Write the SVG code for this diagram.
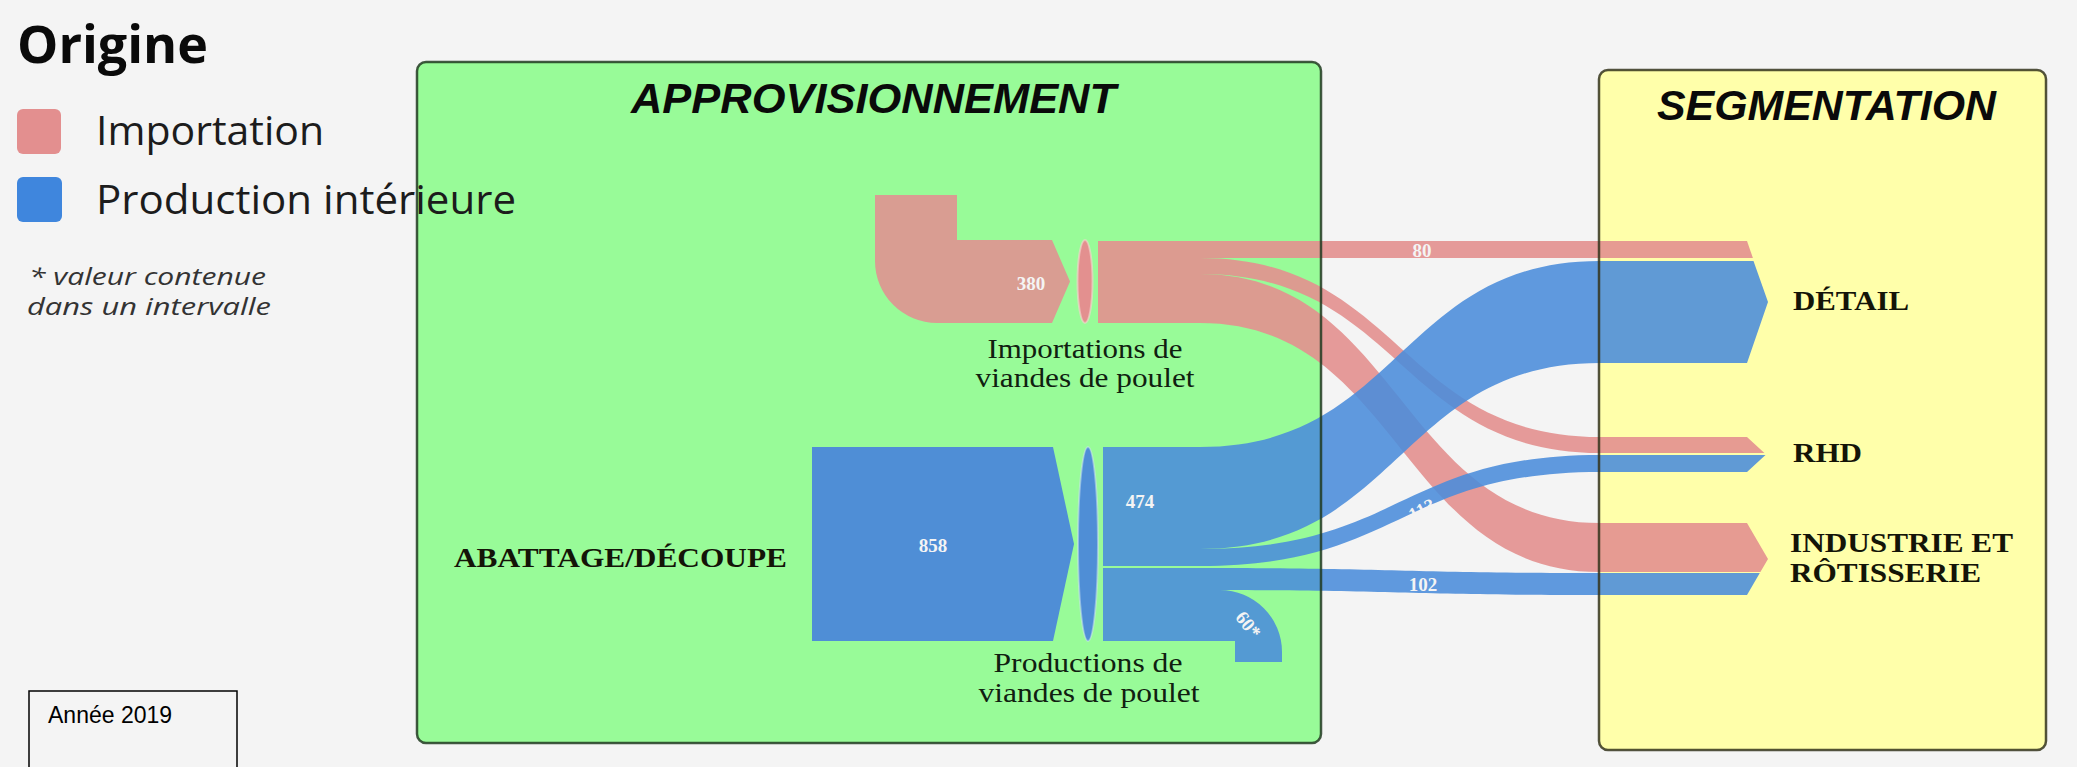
<svg xmlns="http://www.w3.org/2000/svg" width="2077" height="767" viewBox="0 0 2077 767">
<style>
.bg{fill:#f4f4f4}
.legend-title{font-family:"Open Sans","Noto Sans",sans-serif;font-weight:700;font-size:52px;fill:#0a0a0a}
.legend-txt{font-family:"Open Sans","Noto Sans",sans-serif;font-size:41px;fill:#1c1c1c}
.note{font-family:"Open Sans","Noto Sans",sans-serif;font-style:italic;font-size:24px;fill:#333}
.title{font-family:"Liberation Sans",Arial,sans-serif;font-weight:700;font-style:italic;font-size:43px;fill:#0a0a0a}
.nlabel{font-family:"Liberation Serif","DejaVu Serif",serif;font-size:27px;fill:#102010}
.tlabel{font-family:"Liberation Serif","DejaVu Serif",serif;font-weight:700;font-size:27px;fill:#141408}
.val{font-family:"Liberation Serif","DejaVu Serif",serif;font-weight:700;font-size:19px;fill:#f4f4f4}
.imp{fill:#e3908f;opacity:0.9}
.prod{fill:#4a8cdb;opacity:0.88}
.prodnode{fill:#4f8ed6}
.border{fill:none;stroke-width:2.5}
</style>
<rect class="bg" x="0" y="0" width="2077" height="767"/>

<g id="box-approvisionnement">
  <rect x="417" y="62" width="904" height="681" rx="9" fill="#98fb98"/>
  <text class="title" x="631" y="113" textLength="485" lengthAdjust="spacingAndGlyphs">APPROVISIONNEMENT</text>
</g>
<g id="box-segmentation">
  <rect x="1599" y="70" width="447" height="680" rx="9" fill="#ffffaa"/>
  <text class="title" x="1657" y="120" textLength="339" lengthAdjust="spacingAndGlyphs">SEGMENTATION</text>
</g>

<g id="node-abattage">
  <path class="prodnode" d="M812,447 H1053 L1074,544 L1053,641 H812 Z"/>
  <text class="val" x="933" y="552" text-anchor="middle">858</text>
  <text class="tlabel" x="454" y="567" textLength="333" lengthAdjust="spacingAndGlyphs">ABATTAGE/DÉCOUPE</text>
</g>
<g id="node-import-source">
  <path d="M875,195 H957 V240 H1052 L1070,281.5 L1052,323 H937 A62,62 0 0 1 875,261 Z" fill="#d99d92"/>
  <text class="val" x="1031" y="290" text-anchor="middle">380</text>
</g>

<g id="connectors">
  <path class="imp" d="M1098,241 H1747 L1752.9,258 H1098 Z"/>
  <path class="imp" d="M1098,258 H1200 C1400,258 1400,437 1600,437 H1747 L1764.4,453 H1600 C1400,453 1400,274 1200,274 H1098 Z"/>
  <path class="imp" d="M1098,274 H1200 C1400,274 1400,523 1600,523 H1747 L1768,559 L1760.4,572 H1600 C1400,572 1400,323 1200,323 H1098 Z"/>
  <path class="prod" d="M1103,447 H1200 C1400,447 1400,261 1600,261 H1747 L1753.5,261 L1768,302 L1747,363 H1600 C1400,363 1400,549 1200,549 H1103 Z"/>
  <path class="prod" d="M1103,549 H1200 C1400,549 1400,455 1600,455 H1765.5 L1747,472 H1600 C1400,472 1400,566 1200,566 H1103 Z"/>
  <path class="prod" d="M1103,568 H1200 C1400,568 1400,573 1600,573 H1759.8 L1747,595 H1600 C1400,595 1400,590 1200,590 H1103 Z"/>
  <path class="prod" d="M1103,590 H1220 A62,62 0 0 1 1282,652 V662 H1235 V641 H1103 Z"/>
  <text class="val" x="1422" y="257" text-anchor="middle" font-size="18">80</text>
  <text class="val" x="1423" y="591" text-anchor="middle" font-size="18">102</text>
  <text class="val" x="1422" y="516" text-anchor="middle" font-size="17" transform="rotate(-28 1422 510)">113</text>
  <text class="val" x="1248" y="631" text-anchor="middle" font-size="17" transform="rotate(52 1248 625)">60*</text>
  <text class="val" x="1140" y="508" text-anchor="middle">474</text>
</g>

<g id="node-import">
  <ellipse cx="1085" cy="281.5" rx="7.5" ry="41.5" fill="#e3908f" stroke="#f6d6d0" stroke-opacity="0.6" stroke-width="2"/>
  <text class="nlabel" x="1085" y="358" text-anchor="middle" textLength="195" lengthAdjust="spacingAndGlyphs">Importations de</text>
  <text class="nlabel" x="1085" y="387" text-anchor="middle" textLength="219" lengthAdjust="spacingAndGlyphs">viandes de poulet</text>
</g>
<g id="node-production">
  <ellipse cx="1088" cy="544" rx="10" ry="97" fill="#4f8ed6" stroke="#cfe3f6" stroke-opacity="0.5" stroke-width="2"/>
  <text class="nlabel" x="1088" y="672" text-anchor="middle" textLength="189" lengthAdjust="spacingAndGlyphs">Productions de</text>
  <text class="nlabel" x="1089" y="702" text-anchor="middle" textLength="221" lengthAdjust="spacingAndGlyphs">viandes de poulet</text>
</g>
<g id="node-detail">
  <text class="tlabel" x="1793" y="310" textLength="116" lengthAdjust="spacingAndGlyphs">DÉTAIL</text>
</g>
<g id="node-rhd">
  <text class="tlabel" x="1793" y="462" textLength="69" lengthAdjust="spacingAndGlyphs">RHD</text>
</g>
<g id="node-industrie">
  <text class="tlabel" x="1790" y="552" textLength="223" lengthAdjust="spacingAndGlyphs">INDUSTRIE ET</text>
  <text class="tlabel" x="1790" y="582" textLength="191" lengthAdjust="spacingAndGlyphs">RÔTISSERIE</text>
</g>

<g id="box-borders">
  <rect class="border" x="417" y="62" width="904" height="681" rx="9" stroke="#213a21" stroke-opacity="0.85"/>
  <rect class="border" x="1599" y="70" width="447" height="680" rx="9" stroke="#34341c" stroke-opacity="0.85"/>
</g>

<g id="legend">
  <text class="legend-title" x="17" y="63">Origine</text>
  <rect x="17" y="109" width="44" height="45" rx="6" fill="#e38f8f"/>
  <text class="legend-txt" x="96" y="145">Importation</text>
  <rect x="17" y="177" width="45" height="45" rx="6" fill="#3f86dd"/>
  <text class="legend-txt" x="96" y="214" textLength="420" lengthAdjust="spacingAndGlyphs">Production intérieure</text>
</g>
<g id="note">
  <text class="note" x="29" y="285" textLength="237" lengthAdjust="spacingAndGlyphs">* valeur contenue</text>
  <text class="note" x="27" y="315" textLength="244" lengthAdjust="spacingAndGlyphs">dans un intervalle</text>
</g>
<g id="year">
  <rect x="29" y="691" width="208" height="90" fill="none" stroke="#000" stroke-width="1.5"/>
  <text x="48" y="723" font-family="Liberation Sans, Arial, sans-serif" font-size="23" fill="#000">Année 2019</text>
</g>
</svg>
